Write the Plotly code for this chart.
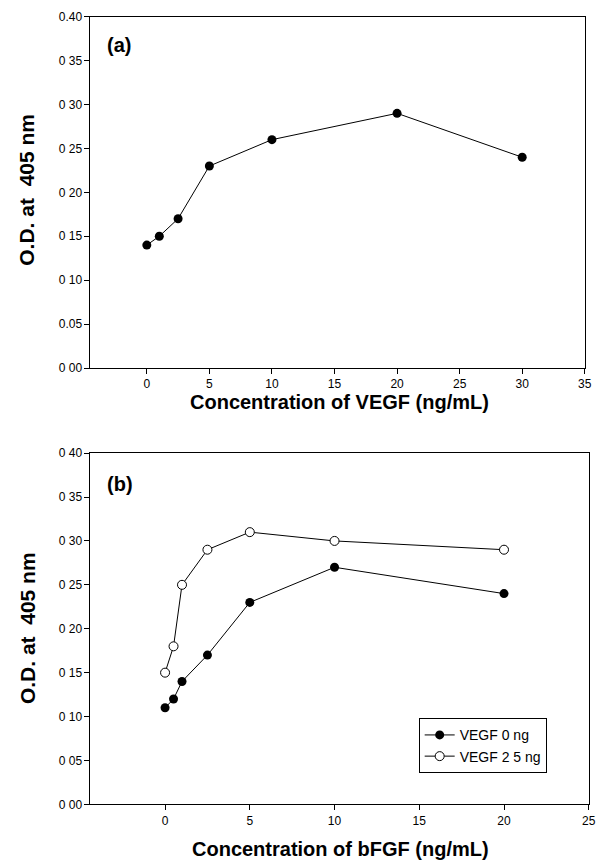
import plotly.graph_objects as go

# Panel (a)
vegf_conc = [0, 1, 2.5, 5, 10, 20, 30]
od_a = [0.14, 0.15, 0.17, 0.23, 0.26, 0.29, 0.24]

# Panel (b)
bfgf_conc = [0, 0.5, 1, 2.5, 5, 10, 20]
od_vegf0 = [0.11, 0.12, 0.14, 0.17, 0.23, 0.27, 0.24]
od_vegf25 = [0.15, 0.18, 0.25, 0.29, 0.31, 0.30, 0.29]

ytick_vals = [0.0, 0.05, 0.10, 0.15, 0.20, 0.25, 0.30, 0.35, 0.40]
ytick_text_a = ["0 00", "0.05", "0 10", "0 15", "0 20", "0 25", "0 30", "0 35", "0.40"]
ytick_text_b = ["0 00", "0 05", "0 10", "0 15", "0 20", "0 25", "0 30", "0 35", "0 40"]
xticks_a = [0, 5, 10, 15, 20, 25, 30, 35]
xticks_b = [0, 5, 10, 15, 20, 25]

W, H = 610, 868
FONT = "Liberation Sans, Arial, sans-serif"

fig = go.Figure()
fig.add_trace(go.Scatter(x=vegf_conc, y=od_a, mode="lines+markers",
                         line=dict(color="black", width=1),
                         marker=dict(color="black", size=9, symbol="circle"),
                         showlegend=False, xaxis="x", yaxis="y"))
fig.add_trace(go.Scatter(x=bfgf_conc, y=od_vegf0, mode="lines+markers", name="VEGF 0 ng",
                         line=dict(color="black", width=1),
                         marker=dict(color="black", size=9, symbol="circle"),
                         xaxis="x2", yaxis="y2"))
fig.add_trace(go.Scatter(x=bfgf_conc, y=od_vegf25, mode="lines+markers", name="VEGF 2 5 ng",
                         line=dict(color="black", width=1),
                         marker=dict(color="white", size=9, symbol="circle",
                                     line=dict(color="black", width=1)),
                         xaxis="x2", yaxis="y2"))

SCX, CX = 0.994, -2.0
SCY, CY = 0.983, 7.3

def px_x(p):
    return ((p - CX) / SCX) / W

def px_y(p):
    return 1 - ((p - CY) / SCY) / H

axis_common = dict(showgrid=False, zeroline=False, showline=True, linecolor="black",
                   linewidth=1, ticks="outside", ticklen=5, tickcolor="black",
                   mirror=True, tickfont=dict(family=FONT, size=12, color="black"))

fig.update_layout(
    width=W, height=H,
    margin=dict(l=0, r=0, t=0, b=0),
    paper_bgcolor="white", plot_bgcolor="white",
    xaxis=dict(domain=[px_x(89), px_x(586)], range=[-4.5, 35], tickvals=xticks_a,
               anchor="y", **axis_common),
    yaxis=dict(domain=[px_y(368), px_y(17)], range=[0, 0.40], tickvals=ytick_vals,
               ticktext=ytick_text_a, anchor="x", **axis_common),
    xaxis2=dict(domain=[px_x(89), px_x(590)], range=[-4.4, 25], tickvals=xticks_b,
                anchor="y2", **axis_common),
    yaxis2=dict(domain=[px_y(804), px_y(453)], range=[0, 0.40], tickvals=ytick_vals,
                ticktext=ytick_text_b, anchor="x2", **axis_common),
    legend=dict(x=px_x(419), y=px_y(718), xanchor="left", yanchor="top",
                bgcolor="white", bordercolor="black", borderwidth=1,
                font=dict(family=FONT, size=14, color="black"),
                itemwidth=30, tracegroupgap=0),
    font=dict(family=FONT, color="black"),
)

ann = [
    dict(text="<b>(a)</b>", x=px_x(104), y=px_y(45), xanchor="left", yanchor="middle", size=20),
    dict(text="<b>(b)</b>", x=px_x(104), y=px_y(484), xanchor="left", yanchor="middle", size=20),
    dict(text="<b>Concentration of VEGF (ng/mL)</b>", x=px_x(339), y=px_y(402),
         xanchor="center", yanchor="middle", size=20),
    dict(text="<b>Concentration of bFGF (ng/mL)</b>", x=px_x(340), y=px_y(849),
         xanchor="center", yanchor="middle", size=20),
]
for a in ann:
    fig.add_annotation(text=a["text"], x=a["x"], y=a["y"], xref="paper", yref="paper",
                       xanchor=a["xanchor"], yanchor=a["yanchor"], showarrow=False,
                       font=dict(family=FONT, size=a["size"], color="black"))

for yc in (190, 628):
    fig.add_annotation(text="<b>O.D. at  405 nm</b>", x=px_x(25), y=px_y(yc),
                       xref="paper", yref="paper", xanchor="center", yanchor="middle",
                       textangle=-90, showarrow=False,
                       font=dict(family=FONT, size=21, color="black"))

post = (
    "var gd=document.getElementById('{plot_id}');"
    "gd.style.position='fixed';gd.style.top='0px';gd.style.left='0px';"
    "document.body.style.margin='0';"
    "document.documentElement.style.overflow='hidden';"
)
fig.write_html("out.html", post_script=post, config={"displayModeBar": False})
